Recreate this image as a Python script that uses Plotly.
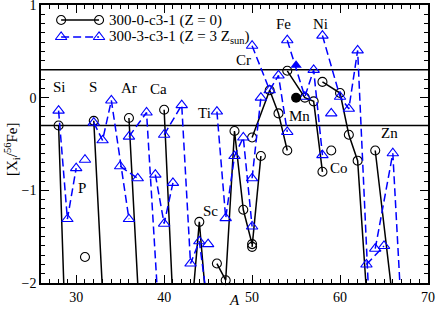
import numpy as np
import plotly.graph_objects as go

# ---------------- data ----------------
# isotope mass numbers per element
masses = {
    "Si": [28, 29, 30], "P": [31], "S": [32, 33, 34, 36], "Cl": [35, 37],
    "Ar": [36, 38, 40], "K": [39, 40, 41], "Ca": [40, 42, 43, 44, 46, 48],
    "Sc": [45], "Ti": [46, 47, 48, 49, 50], "V": [50, 51], "Cr": [50, 52, 53, 54],
    "Fe": [54, 56, 57, 58], "Co": [59], "Ni": [58, 60, 61, 62, 64],
    "Cu": [63, 65], "Zn": [64, 66, 67, 68, 70],
}
# [X_i/56Fe] for model 300-0-c3-1 (Z = 0)   (values < -2 lie off the chart)
z0_values = {
    "Si": [-0.30, -3.2, -3.5], "P": [-1.72], "S": [-0.25, -2.1, -3.0, -3.5],
    "Ar": [-0.22, -3.8, -4.0], "Ca": [-0.13, -4.3, -2.44, -1.34, -3.6, -3.0],
    "Ti": [-1.79, -1.97, -0.36, -1.21, -1.58], "V": [-1.61, -0.63],
    "Cr": [-0.43, 0.08, -0.17, -0.57], "Fe": [0.29, 0.0, -0.04, -0.80],
    "Co": [-0.57], "Ni": [0.17, 0.05, -0.40, -0.68, -3.5],
    "Zn": [-0.57, -2.05, -3.0, -3.0, -3.0],
}
# [X_i/56Fe] for model 300-3-c3-1 (Z = 3 Zsun)
z3_values = {
    "Si": [-0.14, -1.31, -0.76], "P": [-0.67], "S": [-0.27, -0.46, -0.03, -1.31],
    "Cl": [-0.74, -0.87], "Ar": [-0.42, -0.16, -3.3], "K": [-0.83, -1.36, -0.92],
    "Ca": [-0.40, -0.08, -1.79, -1.55, -3.0, -3.2], "Sc": [-1.58],
    "Ti": [-0.15, -1.30, -0.63, -0.43, -1.39], "V": [-0.87, 0.0],
    "Cr": [0.56, 0.08, 0.24, -0.37], "Fe": [0.62, 0.01, 0.30, -0.62],
    "Co": [-0.17], "Ni": [0.67, 0.01, -0.12, 0.51, -3.7], "Cu": [-1.80, -1.60],
    "Zn": [-1.63, -0.60, -2.35, -3.0, -3.0],
}
# Mn (filled symbols)
mn_A = [55]
mn_z0 = [0.0]
mn_z3 = [0.35]

# element labels: (name, A position, value position)
label_names = ["Si", "S", "Ar", "Ca", "P", "Ti", "Sc", "Cr", "Fe", "Ni", "Mn", "Co", "Zn"]
label_A = [28.05, 31.96, 36.06, 39.4, 30.7, 44.55, 45.3, 49.0, 53.6, 57.8, 55.4, 59.9, 65.6]
label_val = [0.11, 0.12, 0.10, 0.09, -0.98, -0.17, -1.22, 0.41, 0.79, 0.79, -0.20, -0.76, -0.38]

ref_lines = [0.3, -0.3]

SERIF = "Liberation Serif, Times New Roman, serif"
BLUE = "#0000ff"


def build(values):
    xs, ys = [], []
    for el, vals in values.items():
        xs += masses[el] + [None]
        ys += vals + [None]
    return xs, ys


def visible_pts(values):
    xs, ys = [], []
    for el, vals in values.items():
        for a, v in zip(masses[el], vals):
            if -2.05 <= v <= 1.0:
                xs.append(a)
                ys.append(v)
    return xs, ys


fig = go.Figure()

for vals, color, dash, sym, size in [
    (z0_values, "black", "solid", "circle-open", 9),
    (z3_values, BLUE, "8px,4px", "triangle-up-open", 10),
]:
    lx, ly = build(vals)
    fig.add_trace(go.Scatter(x=lx, y=ly, mode="lines", showlegend=False,
                             line=dict(color=color, width=1.5, dash=dash),
                             connectgaps=False, hoverinfo="skip"))
    px, py = visible_pts(vals)
    fig.add_trace(go.Scatter(x=px, y=py, mode="markers", showlegend=False,
                             cliponaxis=False,
                             marker=dict(symbol=sym, size=size, color=color,
                                         line=dict(color=color, width=1.1))))

fig.add_trace(go.Scatter(x=mn_A, y=mn_z0, mode="markers", showlegend=False,
                         marker=dict(symbol="circle", size=10, color="black")))
fig.add_trace(go.Scatter(x=mn_A, y=mn_z3, mode="markers", showlegend=False,
                         marker=dict(symbol="triangle-up", size=10, color=BLUE)))

# legend samples on an overlay axis spanning the plot area (0..1)
leg_x = [0.052, 0.150]
fig.add_trace(go.Scatter(x=leg_x, y=[0.946, 0.946], xaxis="x2", yaxis="y2",
                         mode="lines+markers", showlegend=False, hoverinfo="skip",
                         line=dict(color="black", width=1.5),
                         marker=dict(symbol="circle-open", size=9, color="black",
                                     line=dict(color="black", width=1.1))))
fig.add_trace(go.Scatter(x=leg_x, y=[0.885, 0.885], xaxis="x2", yaxis="y2",
                         mode="lines+markers", showlegend=False, hoverinfo="skip",
                         line=dict(color=BLUE, width=1.5, dash="8px,4px"),
                         marker=dict(symbol="triangle-up-open", size=10, color=BLUE,
                                     line=dict(color=BLUE, width=1.1))))

FONT = dict(family=SERIF, size=15, color="black")
TICKFONT = dict(family=SERIF, size=14, color="black")
annotations = [
    dict(x=0.171, y=0.946, xref="paper", yref="paper", xanchor="left", yanchor="middle",
         text="300-0-c3-1 (Z = 0)", showarrow=False, font=FONT),
    dict(x=0.171, y=0.885, xref="paper", yref="paper", xanchor="left", yanchor="middle",
         text="300-3-c3-1 (Z = 3 Z<sub>sun</sub>)", showarrow=False, font=FONT),
    # axis titles
    dict(x=-0.075, y=0.482, xref="paper", yref="paper", xanchor="center", yanchor="middle",
         text="[X<sub>i</sub>/<sup>56</sup>Fe]", textangle=-90, showarrow=False, font=FONT),
    dict(x=0.5, y=-0.061, xref="paper", yref="paper", xanchor="center", yanchor="middle",
         text="<i>A</i>", showarrow=False, font=FONT),
]
for n, a, v in zip(label_names, label_A, label_val):
    annotations.append(dict(x=a, y=v, xref="x", yref="y", text=n, showarrow=False, font=FONT))

shapes = [dict(type="line", xref="paper", x0=0, x1=1, yref="y", y0=r, y1=r,
               line=dict(color="black", width=1.5), layer="below") for r in ref_lines]

axis_common = dict(
    showgrid=False, zeroline=False, showline=True, linecolor="black", linewidth=1.5,
    mirror="allticks", ticks="inside", ticklen=8, tickwidth=1, tickcolor="black",
    tickfont=TICKFONT, automargin=False, ticklabeloverflow="allow",
)

fig.update_layout(
    width=436, height=311,
    margin=dict(l=41, r=8, t=5, b=28),
    paper_bgcolor="white", plot_bgcolor="white",
    showlegend=False,
    xaxis=dict(range=[26, 70], tick0=0, dtick=10,
               minor=dict(dtick=1, ticklen=4, ticks="inside", tickcolor="black", showgrid=False),
               **axis_common),
    yaxis=dict(range=[-2, 1], tick0=0, dtick=1,
               minor=dict(dtick=0.1, ticklen=4, ticks="inside", tickcolor="black", showgrid=False),
               **axis_common),
    xaxis2=dict(overlaying="x", range=[0, 1], visible=False),
    yaxis2=dict(overlaying="y", range=[0, 1], visible=False),
    annotations=annotations,
    shapes=shapes,
)

fig.write_html("out.html", config={"displayModeBar": False},
               post_script="document.body.style.margin='0px';")
